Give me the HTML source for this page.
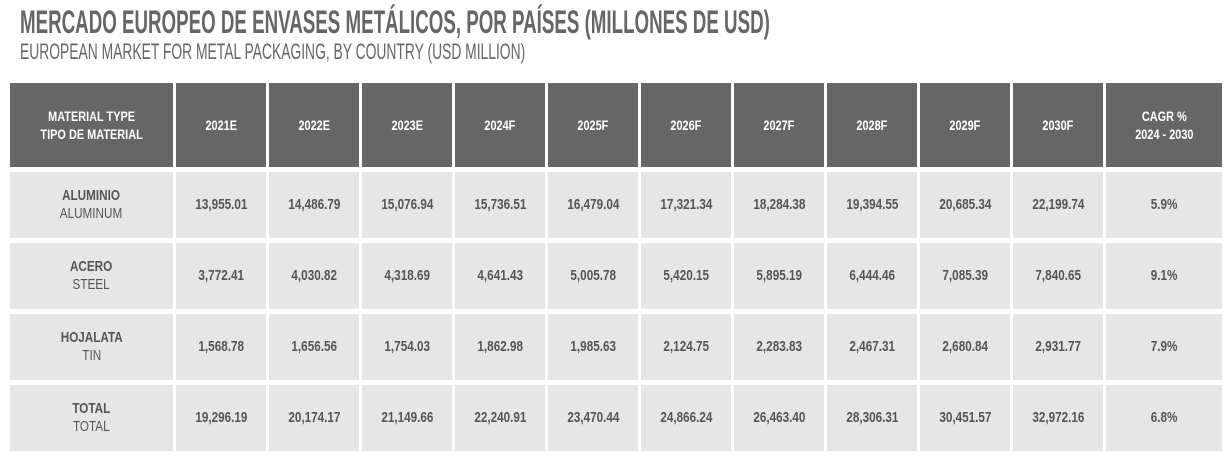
<!DOCTYPE html>
<html><head><meta charset="utf-8"><style>
body{margin:0;width:1232px;height:460px;background:#fff;position:relative;overflow:hidden;font-family:"Liberation Sans",sans-serif;}
.t{position:absolute;left:20px;white-space:nowrap;color:#666;font-weight:bold;transform-origin:left top;}
.c{position:absolute;display:flex;align-items:center;justify-content:center;text-align:center;}
.c span{display:inline-block;transform:scaleX(0.78);white-space:nowrap;line-height:18px;}
.h{background:#666;color:#fff;font-weight:bold;font-size:14px;}
.b{background:#e6e6e6;color:#555;font-weight:bold;font-size:15px;}
.sub{font-weight:normal;}
</style></head><body>
<div class="t" id="title" style="top:4px;font-size:32px;">MERCADO EUROPEO DE ENVASES METÁLICOS, POR PAÍSES (MILLONES DE USD)</div>
<div class="t" id="subtitle" style="top:39px;font-size:22px;font-weight:normal;">EUROPEAN MARKET FOR METAL PACKAGING, BY COUNTRY (USD MILLION)</div>
<div id="table"></div>
<script>
const headers=["2021E","2022E","2023E","2024F","2025F","2026F","2027F","2028F","2029F","2030F"];
const materialsEs=["ALUMINIO","ACERO","HOJALATA","TOTAL"];
const materialsEn=["ALUMINUM","STEEL","TIN","TOTAL"];
const aluminio=["13,955.01","14,486.79","15,076.94","15,736.51","16,479.04","17,321.34","18,284.38","19,394.55","20,685.34","22,199.74"];
const acero=["3,772.41","4,030.82","4,318.69","4,641.43","5,005.78","5,420.15","5,895.19","6,444.46","7,085.39","7,840.65"];
const hojalata=["1,568.78","1,656.56","1,754.03","1,862.98","1,985.63","2,124.75","2,283.83","2,467.31","2,680.84","2,931.77"];
const total=["19,296.19","20,174.17","21,149.66","22,240.91","23,470.44","24,866.24","26,463.40","28,306.31","30,451.57","32,972.16"];
const cagr=["5.9%","9.1%","7.9%","6.8%"];
const rows=[aluminio,acero,hojalata,total];
const T=document.getElementById('table');
function cell(x,y,w,h,cls,html,name){
  const d=document.createElement('div');
  d.className='c '+cls;
  d.style.left=x+'px';d.style.top=y+'px';d.style.width=w+'px';d.style.height=h+'px';
  d.innerHTML='<span>'+html+'</span>';
  
  
  T.appendChild(d);
}
function colX(i){return 176+i*93;}
cell(10,83,163,84,'h','MATERIAL TYPE<br>TIPO DE MATERIAL','header-material-type');
headers.forEach((h,i)=>cell(colX(i),83,90,84,'h',h,'header-'+h.toLowerCase()));
cell(1106,83,116,84,'h','CAGR %<br>2024 - 2030','header-cagr');
rows.forEach((r,ri)=>{
  const y=172+ri*71;
  cell(10,y,163,66,'b',materialsEs[ri]+'<br><span class="sub" style="transform:none">'+materialsEn[ri]+'</span>','row-label-'+materialsEn[ri].toLowerCase());
  r.forEach((v,i)=>cell(colX(i),y,90,66,'b',v,'value-'+materialsEn[ri].toLowerCase()+'-'+headers[i].toLowerCase()));
  cell(1106,y,116,66,'b',cagr[ri],'cagr-'+materialsEn[ri].toLowerCase());
});
function fit(id,w){const e=document.getElementById(id);const s=w/e.scrollWidth;e.style.transform='scaleX('+s+')';}
fit('title',750);fit('subtitle',505);
</script>
</body></html>
